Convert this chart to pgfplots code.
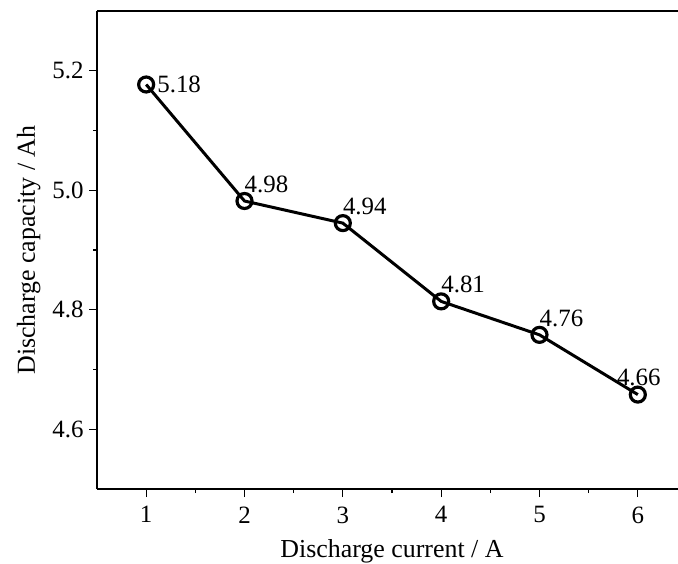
\documentclass[border=0pt]{standalone}
\usepackage{pgfplots}
\pgfplotsset{compat=1.18}
\usepackage{fontspec}
\setmainfont{Liberation Serif}

\begin{document}
\begin{tikzpicture}
\path[use as bounding box] (0,0) rectangle (678bp,564bp);
\begin{axis}[
    at={(97bp,75bp)}, anchor=south west,
    scale only axis,
    width=590bp, height=478bp,
    xmin=0.5, xmax=6.5,
    ymin=4.5, ymax=5.3,
    xtick={1,...,6},
    ytick={4.6,4.8,5.0,5.2},
    minor x tick num=1,
    minor y tick num=1,
    yticklabel style={xshift=-2bp, /pgf/number format/fixed, /pgf/number format/fixed zerofill, /pgf/number format/precision=1},
    /pgf/number format/assume math mode=true,
    axis x line*=bottom,
    axis y line*=left,
    axis line style={line width=1.3pt, -},
    tick style={line width=1.2pt, black},
    tick align=outside,
    major tick length=8bp,
    minor tick length=4bp,
    xtick pos=bottom, ytick pos=left,
    tick label style={font=\fontsize{25}{29}\selectfont},
    label style={font=\fontsize{26}{30}\selectfont},
    xticklabel style={yshift=-6bp},
    xlabel={Discharge current / A},
    ylabel={Discharge capacity / Ah},
    xlabel style={yshift=-9bp},
    ylabel style={yshift=5bp},
    clip=false,
    nodes near coords,
    point meta=explicit symbolic,
    every node near coord/.append style={font=\fontsize{25}{29}\selectfont, inner sep=1pt},
]
\draw[line width=1.3pt] (rel axis cs:0,1) -- (rel axis cs:1,1);
\addplot[black, line width=3pt, mark=o,
    mark size=7.5bp, mark options={line width=3.2pt, fill=white},
    nodes near coords={}]
coordinates {(1,5.177) (2,4.982) (3,4.945) (4,4.814) (5,4.758) (6,4.658)};
% value labels
\addplot[draw=none, mark=none, every node near coord/.append style={anchor=west, xshift=10bp}]
coordinates {(1,5.177) [5.18]};
\addplot[draw=none, mark=none, every node near coord/.append style={anchor=south west, xshift=-1bp, yshift=7bp}]
coordinates {(2,4.982) [4.98] (3,4.945) [4.94] (4,4.814) [4.81] (5,4.758) [4.76]};
\addplot[draw=none, mark=none, every node near coord/.append style={anchor=south, xshift=1bp, yshift=8bp}]
coordinates {(6,4.658) [4.66]};
\end{axis}
\end{tikzpicture}
\end{document}
